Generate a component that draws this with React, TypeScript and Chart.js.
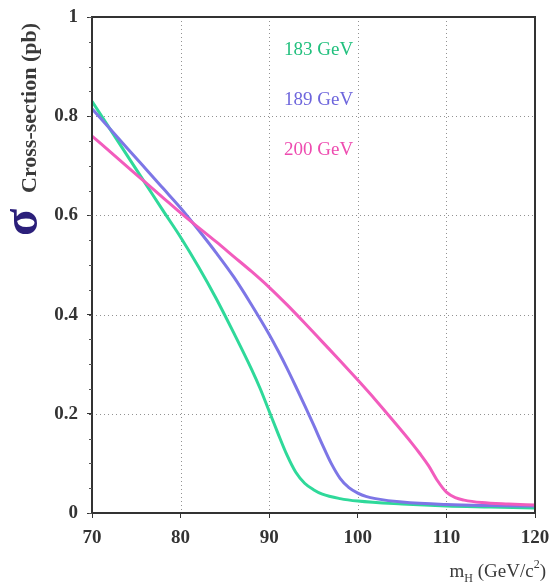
import React, { useEffect, useRef } from "react";
import { Chart, registerables } from "chart.js";

Chart.register(...registerables);

// Higgs mass (GeV/c^2) sample points and cross-sections (pb)
const mass183 = [70, 72, 74, 76, 78, 80, 82, 84, 86, 88, 89, 90, 91, 92, 93, 94, 95, 96, 98, 100, 105, 110, 115, 120];
const sigma183 = [0.83, 0.775, 0.72, 0.665, 0.61, 0.556, 0.497, 0.433, 0.363, 0.29, 0.25, 0.205, 0.16, 0.117, 0.082, 0.06, 0.047, 0.038, 0.029, 0.024, 0.018, 0.014, 0.012, 0.01];

const mass189 = [70, 72, 74, 76, 78, 80, 82, 84, 86, 88, 90, 91, 92, 93, 94, 95, 96, 97, 98, 99, 100, 101, 102, 105, 110, 115, 120];
const sigma189 = [0.815, 0.775, 0.735, 0.695, 0.655, 0.615, 0.571, 0.525, 0.476, 0.42, 0.36, 0.327, 0.292, 0.255, 0.217, 0.178, 0.138, 0.1, 0.07, 0.051, 0.04, 0.033, 0.029, 0.022, 0.017, 0.015, 0.014];

const mass200 = [70, 72, 74, 76, 78, 80, 82, 84, 86, 88, 90, 92, 94, 96, 98, 100, 102, 104, 106, 107, 108, 109, 110, 111, 112, 114, 117, 120];
const sigma200 = [0.76, 0.729, 0.698, 0.667, 0.636, 0.605, 0.576, 0.547, 0.517, 0.487, 0.455, 0.42, 0.383, 0.345, 0.307, 0.268, 0.228, 0.186, 0.143, 0.12, 0.095, 0.065, 0.042, 0.031, 0.026, 0.021, 0.018, 0.016];

const seriesLabels = ["183 GeV", "189 GeV", "200 GeV"];
const xTickValues = [70, 80, 90, 100, 110, 120];
const yTickValues = [0, 0.2, 0.4, 0.6, 0.8, 1];
const yTickLabels = ["0", "0.2", "0.4", "0.6", "0.8", "1"];

const COLOR183 = "#2fd99a";
const COLOR189 = "#7d76e6";
const COLOR200 = "#f25cbd";
const LABEL183 = "#22c07e";
const LABEL189 = "#6e66dc";
const LABEL200 = "#ee4cb0";

const toPts = (xs: number[], ys: number[]) => xs.map((x, i) => ({ x, y: ys[i] }));

const decorPlugin = {
  id: "decor",
  beforeDatasetsDraw(chart: any) {
    const { ctx, chartArea } = chart;
    const { left, right, top, bottom } = chartArea;
    const xs = chart.scales.x;
    const ys = chart.scales.y;
    ctx.save();
    ctx.strokeStyle = "rgba(110,110,110,0.75)";
    ctx.lineWidth = 1;
    ctx.setLineDash([1, 3]);
    xTickValues.slice(1, -1).forEach((v) => {
      const px = Math.round(xs.getPixelForValue(v)) + 0.5;
      ctx.beginPath();
      ctx.moveTo(px, top);
      ctx.lineTo(px, bottom);
      ctx.stroke();
    });
    yTickValues.slice(1, -1).forEach((v) => {
      const py = Math.round(ys.getPixelForValue(v)) + 0.5;
      ctx.beginPath();
      ctx.moveTo(left, py);
      ctx.lineTo(right, py);
      ctx.stroke();
    });
    ctx.restore();
  },
  afterDraw(chart: any) {
    const { ctx, chartArea } = chart;
    const { left, right, top, bottom } = chartArea;
    const yScale = chart.scales.y;
    ctx.save();
    // frame
    ctx.strokeStyle = "#333";
    ctx.lineWidth = 2;
    ctx.beginPath();
    ctx.rect(left, top, right - left, bottom - top);
    ctx.stroke();
    // minor ticks on y axis
    ctx.lineWidth = 1;
    ctx.strokeStyle = "#555";
    for (let v = 0; v <= 1.0001; v += 0.05) {
      const py = Math.round(yScale.getPixelForValue(v)) + 0.5;
      ctx.beginPath();
      ctx.moveTo(left - 3, py);
      ctx.lineTo(left, py);
      ctx.stroke();
    }
    // series labels
    ctx.font = "19px 'Liberation Serif'";
    ctx.textBaseline = "middle";
    ctx.textAlign = "left";
    const labelColors = [LABEL183, LABEL189, LABEL200];
    const labelY = [50, 100, 150];
    seriesLabels.forEach((t, i) => {
      ctx.fillStyle = labelColors[i];
      ctx.fillText(t, 284, labelY[i]);
    });
    // y title
    ctx.textBaseline = "middle";
    ctx.textAlign = "left";
    ctx.fillStyle = "#2b1f7a";
    ctx.font = "bold 50px 'Liberation Serif'";
    ctx.save();
    ctx.translate(24, 236);
    ctx.rotate(-Math.PI / 2);
    ctx.fillText("σ", 0, 0);
    ctx.restore();
    ctx.fillStyle = "#3a3a3a";
    ctx.font = "bold 22px 'Liberation Serif'";
    ctx.save();
    ctx.translate(30, 193);
    ctx.rotate(-Math.PI / 2);
    ctx.fillText("Cross-section (pb)", 0, 0);
    ctx.restore();
    // x title: m_H (GeV/c^2)
    const base = 577;
    const big = "19px 'Liberation Serif'";
    const small = "12px 'Liberation Serif'";
    const parts = [
      { t: "m", f: big, dy: 0 },
      { t: "H", f: small, dy: 5 },
      { t: " (GeV/c", f: big, dy: 0 },
      { t: "2", f: small, dy: -9 },
      { t: ")", f: big, dy: 0 },
    ];
    let total = 0;
    parts.forEach((p) => {
      ctx.font = p.f;
      total += ctx.measureText(p.t).width;
    });
    let x = 546 - total;
    ctx.fillStyle = "#3a3a3a";
    ctx.textBaseline = "alphabetic";
    parts.forEach((p) => {
      ctx.font = p.f;
      ctx.fillText(p.t, x, base + p.dy);
      x += ctx.measureText(p.t).width;
    });
    ctx.restore();
  },
};

export default function App() {
  const ref = useRef<HTMLCanvasElement>(null);
  useEffect(() => {
    if (!ref.current) return;
    const lineDs = (label: string, xs: number[], ys: number[], color: string) => ({
      label,
      data: toPts(xs, ys),
      borderColor: color,
      borderWidth: 3,
      pointRadius: 0,
      cubicInterpolationMode: "monotone",
      fill: false,
    });
    const chart = new Chart(ref.current, {
      type: "line",
      data: {
        datasets: [
          lineDs(seriesLabels[2], mass200, sigma200, COLOR200),
          lineDs(seriesLabels[1], mass189, sigma189, COLOR189),
          lineDs(seriesLabels[0], mass183, sigma183, COLOR183),
        ],
      },
      options: {
        animation: false,
        responsive: false,
        maintainAspectRatio: false,
        layout: { padding: { left: 0, right: 18, top: 17, bottom: 0 } },
        plugins: { legend: { display: false }, tooltip: { enabled: false } },
        scales: {
          x: {
            type: "linear",
            min: 70,
            max: 120,
            afterBuildTicks: (s: any) => {
              s.ticks = xTickValues.map((v) => ({ value: v }));
            },
            afterFit: (s: any) => {
              s.height = 71;
              s.paddingLeft = 0;
              s.paddingRight = 0;
            },
            ticks: {
              color: "#333",
              font: { family: "'Liberation Serif'", size: 19, weight: "bold" },
              padding: 9,
              maxRotation: 0,
              callback: (v: any) => String(v),
            },
            grid: {
              drawOnChartArea: false,
              tickColor: "#333",
              tickLength: 5,
              lineWidth: 1,
            },
            border: { display: false },
          },
          y: {
            type: "linear",
            min: 0,
            max: 1,
            afterBuildTicks: (s: any) => {
              s.ticks = yTickValues.map((v) => ({ value: v }));
            },
            afterFit: (s: any) => {
              s.width = 92;
              s.paddingTop = 0;
              s.paddingBottom = 0;
            },
            ticks: {
              color: "#333",
              font: { family: "'Liberation Serif'", size: 19, weight: "bold" },
              padding: 9,
              callback: (v: any) => {
                const i = yTickValues.findIndex((t) => Math.abs(t - v) < 1e-6);
                return i >= 0 ? yTickLabels[i] : "";
              },
            },
            grid: {
              drawOnChartArea: false,
              tickColor: "#333",
              tickLength: 5,
              lineWidth: 1,
            },
            border: { display: false },
          },
        },
      },
      plugins: [decorPlugin],
    } as any);
    return () => chart.destroy();
  }, []);
  return (
    <div style={{ position: "absolute", left: 0, top: 0, width: 553, height: 584, background: "#fff" }}>
      <canvas ref={ref} width={553} height={584} style={{ display: "block" }} />
    </div>
  );
}
